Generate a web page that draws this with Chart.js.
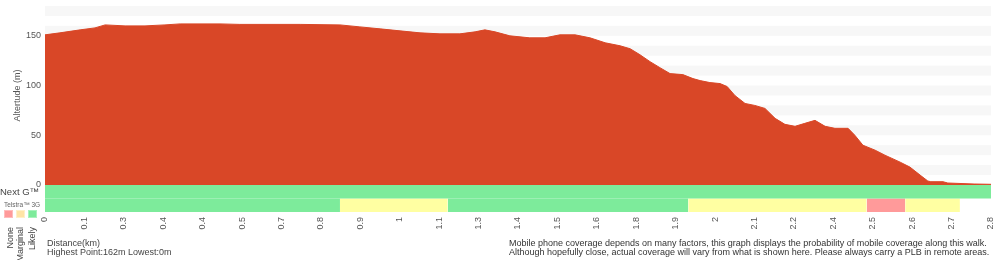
<!DOCTYPE html>
<html>
<head>
<meta charset="utf-8">
<script src="https://cdn.jsdelivr.net/npm/chart.js@4"></script>
<style>
body { margin: 0; background: #fff; font-family: "Liberation Sans", Arial, sans-serif; }
#wrap { position: relative; width: 1000px; height: 260px; }
#wrap canvas { position: absolute; left: 0; top: 0; }
.t { position: absolute; white-space: nowrap; color: #333; font-size: 9px; line-height: 9px; }
.sq { position: absolute; top: 210px; width: 9px; height: 8px; box-sizing: border-box; border: 1px solid; }
.vl { position: absolute; top: 227px; writing-mode: vertical-rl; transform: rotate(180deg); font-size: 9px; line-height: 10px; color: #444; white-space: nowrap; }
</style>
</head>
<body>
<div id="wrap">
  <canvas id="altChart" width="1000" height="260"></canvas>
  <div class="t" style="left:0;top:187px;font-size:9.5px;color:#444">Next G™</div>
  <div class="t" style="left:4px;top:200px;font-size:6.5px;color:#666">Telstra™ 3G</div>
  <div class="sq" style="left:4px;background:#ff9a9a;border-color:#ffbcbc"></div>
  <div class="sq" style="left:16px;background:#ffe4a6;border-color:#fff0c8"></div>
  <div class="sq" style="left:28px;background:#7deb9b;border-color:#a8f2bc"></div>
  <div class="vl" style="left:5px">None</div>
  <div class="vl" style="left:15px">Marginal</div>
  <div class="vl" style="left:27px">Likely</div>
  <div class="t" style="left:47px;top:239px;color:#444">Distance(km)</div>
  <div class="t" style="left:47px;top:248px;color:#444">Highest Point:162m Lowest:0m</div>
  <div class="t" style="left:509px;top:239px">Mobile phone coverage depends on many factors, this graph displays the probability of mobile coverage along this walk.</div>
  <div class="t" style="left:509px;top:248px">Although hopefully close, actual coverage will vary from what is shown here. Please always carry a PLB in remote areas.</div>
</div>
<script>
// walk profile
const distanceKm = [0, 0.044, 0.104, 0.148, 0.178, 0.237, 0.296, 0.355, 0.40, 0.518, 0.577, 0.755, 0.873, 0.932, 0.992,
    1.051, 1.110, 1.169, 1.228, 1.273, 1.302, 1.332, 1.376, 1.435, 1.480, 1.524, 1.569, 1.613, 1.658, 1.702,
    1.732, 1.761, 1.791, 1.820, 1.850, 1.888, 1.918, 1.939, 1.968, 1.998, 2.019, 2.042, 2.072, 2.101, 2.131,
    2.161, 2.190, 2.220, 2.249, 2.279, 2.309, 2.338, 2.377, 2.397, 2.421, 2.457, 2.486, 2.531, 2.560, 2.590,
    2.613, 2.622, 2.658, 2.672, 2.75, 2.8];
const altitudeM = [151, 153, 156, 158, 161, 160, 160, 161, 162, 162, 161.5, 161.5, 161, 159, 157,
    155, 153, 152, 152, 154, 156, 154, 150, 148, 148, 151, 151, 148, 143, 140,
    137, 131, 124, 118, 112, 111, 107, 105, 103, 102, 99, 90, 82, 80, 77,
    67, 61, 59, 62, 65, 59, 57, 57, 50, 40, 35, 30, 23, 18, 10,
    4, 3.3, 3.3, 2, 1, 0.7];
const xTickLabels = ['0', '0.1', '0.3', '0.4', '0.4', '0.5', '0.7', '0.8', '0.9', '1', '1.1', '1.3', '1.4',
    '1.5', '1.6', '1.8', '1.9', '2', '2.1', '2.2', '2.4', '2.5', '2.6', '2.7', '2.8'];

// coverage segments (km)
const nextGFrom = [0];
const nextGTo = [2.8];
const nextGLevel = ['Likely'];
const telstra3GFrom = [0, 0.873, 1.192, 1.904, 2.432, 2.546];
const telstra3GTo = [0.873, 1.192, 1.904, 2.432, 2.546, 2.708];
const telstra3GLevel = ['Likely', 'Marginal', 'Likely', 'Marginal', 'None', 'Marginal'];

const COVERAGE_COLORS = { None: '#ff9a9a', Marginal: '#ffffa2', Likely: '#7deb9b' };
const TEXT_COLOR = '#555';
Chart.defaults.font.family = '"Liberation Sans", Arial, sans-serif';

function coverageSets(from, to, level, row) {
    return from.map((f, i) => ({
        data: [{ x: f, y: row + 1 }, { x: to[i], y: row + 1 }],
        yAxisID: 'cov',
        fill: { value: row },
        backgroundColor: COVERAGE_COLORS[level[i]],
        borderWidth: 0,
        pointRadius: 0
    }));
}

// alternating grey bands every 10m
const bandPlugin = {
    id: 'bands',
    beforeDatasetsDraw(chart) {
        const y = chart.scales.y, area = chart.chartArea, ctx = chart.ctx;
        ctx.save();
        ctx.fillStyle = '#f7f7f7';
        for (let v = 10; v < y.max; v += 20) {
            const top = y.getPixelForValue(Math.min(v + 10, y.max));
            const bot = y.getPixelForValue(v);
            ctx.fillRect(area.left, top, area.right - area.left, bot - top);
        }
        ctx.restore();
    }
};

new Chart(document.getElementById('altChart'), {
    type: 'line',
    data: {
        datasets: [{
            data: distanceKm.map((d, i) => ({ x: d, y: altitudeM[i] })),
            yAxisID: 'y',
            fill: 'origin',
            backgroundColor: '#d94727',
            borderColor: '#d94727',
            borderWidth: 1,
            pointRadius: 0,
            tension: 0
        },
        ...coverageSets(nextGFrom, nextGTo, nextGLevel, 1),
        ...coverageSets(telstra3GFrom, telstra3GTo, telstra3GLevel, 0)]
    },
    options: {
        responsive: false,
        animation: false,
        devicePixelRatio: 1,
        layout: { padding: 0 },
        plugins: { legend: { display: false }, tooltip: { enabled: false } },
        scales: {
            x: {
                type: 'linear', min: 0, max: 2.8,
                afterBuildTicks: s => { s.ticks = xTickLabels.map((l, i) => ({ value: i * 2.8 / (xTickLabels.length - 1) })); },
                afterFit: s => { s.height = 48; s.paddingLeft = 0; s.paddingRight = 9; },
                grid: { display: false, drawTicks: false },
                border: { display: false },
                ticks: {
                    autoSkip: false, minRotation: 90, maxRotation: 90, padding: 5,
                    color: TEXT_COLOR, font: { size: 9 },
                    callback: (v, i) => xTickLabels[i]
                }
            },
            y: {
                stack: 'alt', stackWeight: 179, weight: 1,
                min: 0, max: 180,
                afterFit: s => { s.width = 45; s.paddingTop = 6; s.paddingBottom = 0; },
                grid: { display: false, drawTicks: false },
                border: { display: false },
                ticks: { stepSize: 50, includeBounds: false, padding: 4, color: TEXT_COLOR, font: { size: 9 } },
                title: { display: true, text: 'Altertude (m)', color: TEXT_COLOR, font: { size: 9 }, padding: { top: 12, bottom: 0 } }
            },
            cov: {
                stack: 'alt', stackWeight: 27, weight: 0,
                min: 0, max: 2,
                afterFit: s => { s.paddingTop = 0; s.paddingBottom = 0; },
                grid: { display: false, drawTicks: false },
                border: { display: false },
                ticks: { display: false }
            }
        }
    },
    plugins: [bandPlugin]
});
</script>
</body>
</html>
